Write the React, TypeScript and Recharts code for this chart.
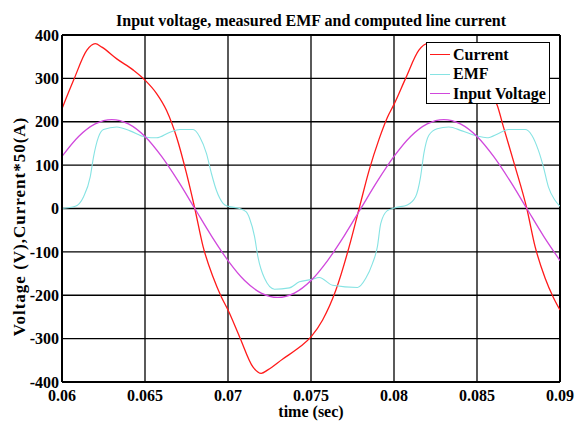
import React from 'react';
import { LineChart, Line, XAxis, YAxis, CartesianGrid, Legend, ReferenceLine } from 'recharts';

const xTicks = [0.06, 0.065, 0.07, 0.075, 0.08, 0.085, 0.09];
const xTickLabels = ['0.06', '0.065', '0.07', '0.075', '0.08', '0.085', '0.09'];
const yTicks = [-400, -300, -200, -100, 0, 100, 200, 300, 400];

const currentT = [0.06, 0.0607, 0.0615, 0.062, 0.0624, 0.0633, 0.0643, 0.065, 0.0657, 0.0663, 0.0669, 0.0675, 0.068, 0.0685, 0.0691, 0.0696, 0.07, 0.0707, 0.0715, 0.072, 0.0724, 0.0733, 0.0743, 0.075, 0.0757, 0.0765, 0.0773, 0.0779, 0.0785, 0.0791, 0.0796, 0.08, 0.0807, 0.0815, 0.082, 0.0824, 0.0833, 0.0843, 0.085, 0.0857, 0.0862, 0.0866, 0.0873, 0.088, 0.0885, 0.0891, 0.0896, 0.09];
const currentV = [230, 296, 365, 380, 372, 345, 319, 296, 265, 226, 165, 81, 0, -88, -158, -204, -234, -296, -365, -380, -372, -347, -320, -296, -257, -188, -88, 0, 88, 160, 210, 240, 300, 365, 380, 372, 345, 318, 295, 265, 240, 187, 96, 0, -88, -160, -205, -234];

const emfT = [0.06, 0.0608, 0.0613, 0.0617, 0.0619, 0.0622, 0.0625, 0.0633, 0.0641, 0.065, 0.0657, 0.0665, 0.0671, 0.0679, 0.0683, 0.0687, 0.069, 0.0693, 0.0697, 0.07, 0.0707, 0.0711, 0.0713, 0.0716, 0.0718, 0.0722, 0.0728, 0.0737, 0.0743, 0.075, 0.0755, 0.0763, 0.0778, 0.0783, 0.0787, 0.079, 0.0792, 0.0796, 0.0801, 0.0808, 0.0813, 0.0816, 0.0818, 0.0821, 0.0826, 0.0833, 0.0841, 0.085, 0.0856, 0.0863, 0.0869, 0.0879, 0.0883, 0.0887, 0.089, 0.0893, 0.0897, 0.09];
const emfV = [0, 5, 27, 73, 119, 165, 182, 188, 179, 165, 163, 176, 182, 182, 165, 127, 81, 42, 12, 5, 0, -8, -23, -65, -111, -161, -186, -183, -169, -164, -159, -177, -182, -161, -127, -88, -35, -5, 2, 8, 27, 73, 127, 169, 184, 188, 179, 167, 163, 173, 182, 182, 169, 134, 96, 50, 19, 5];

const voltageT = [0.06, 0.061, 0.062, 0.063, 0.064, 0.065, 0.066, 0.067, 0.068, 0.069, 0.07, 0.071, 0.072, 0.073, 0.074, 0.075, 0.076, 0.077, 0.078, 0.079, 0.08, 0.081, 0.082, 0.083, 0.084, 0.085, 0.086, 0.087, 0.088, 0.089, 0.09];
const voltageV = [120, 166, 195, 205, 195, 166, 120, 63, 0, -63, -120, -166, -195, -205, -195, -166, -120, -63, 0, 63, 120, 166, 195, 205, 195, 166, 120, 63, 0, -63, -120];

const seriesNames = ['Current', 'EMF', 'Input Voltage'];
const seriesColors = ['#ff1a1a', '#86e3e3', '#d048dc'];

const toData = (ts: number[], vs: number[]) => ts.map((t, i) => ({ t, v: vs[i] }));
const currentData = toData(currentT, currentV);
const emfData = toData(emfT, emfV);
const voltageData = toData(voltageT, voltageV);

const FONT = '"Liberation Serif", "Times New Roman", serif';

const LegendBox = () => (
  <div
    style={{
      width: 124,
      height: 62,
      boxSizing: 'border-box',
      border: '1.5px solid #000',
      background: '#fff',
      fontFamily: FONT,
      fontWeight: 'bold',
      fontSize: 16,
      paddingTop: 2,
    }}
  >
    {seriesNames.map((n, i) => (
      <div key={n} style={{ display: 'flex', alignItems: 'center', height: 19.5, whiteSpace: 'nowrap' }}>
        <span style={{ display: 'inline-block', width: 20, height: 0, borderTop: `1.3px solid ${seriesColors[i]}`, marginLeft: 3, marginRight: 3 }} />
        <span>{n}</span>
      </div>
    ))}
  </div>
);

const YLabel = (props: any) => {
  const vb = props.viewBox || { x: 0, y: 0, width: 0, height: 0 };
  const cx = vb.x + 19;
  const cy = vb.y + vb.height / 2 + 18;
  return (
    <text
      x={cx}
      y={cy}
      transform={`rotate(-90, ${cx}, ${cy})`}
      textAnchor="middle"
      dominantBaseline="central"
      fontFamily={FONT}
      fontWeight="bold"
      fontSize={17}
      letterSpacing={1}
      fill="#000"
    >
      Voltage (V),Current*50(A)
    </text>
  );
};

const XLabel = (props: any) => {
  const vb = props.viewBox || { x: 0, y: 0, width: 0, height: 0 };
  const cx = vb.x + vb.width / 2;
  const cy = vb.y + 35;
  return (
    <text x={cx} y={cy} textAnchor="middle" fontFamily={FONT} fontWeight="bold" fontSize={16} fill="#000">
      time (sec)
    </text>
  );
};

export default function App() {
  return (
    <div style={{ position: 'absolute', left: 0, top: 0, width: 576, height: 422, background: '#fff' }}>
      <div
        style={{
          position: 'absolute',
          left: 62,
          width: 498,
          top: 11,
          textAlign: 'center',
          fontFamily: FONT,
          fontWeight: 'bold',
          fontSize: 16,
          lineHeight: '20px',
          color: '#000',
        }}
      >
        Input voltage, measured EMF and computed line current
      </div>
      <LineChart width={576} height={422} margin={{ top: 35, right: 16, bottom: 0, left: 0 }}>
        <CartesianGrid stroke="#000" strokeWidth={1.3} horizontalValues={yTicks} verticalValues={xTicks} />
        <XAxis
          type="number"
          dataKey="t"
          domain={[0.06, 0.09]}
          ticks={xTicks}
          tickFormatter={(v: number) => xTickLabels[xTicks.findIndex((x) => Math.abs(x - v) < 1e-9)] ?? String(v)}
          allowDataOverflow
          height={40}
          tickLine={false}
          tickSize={0}
          tickMargin={8}
          axisLine={{ stroke: '#000', strokeWidth: 2 }}
          tick={{ fill: '#000', fontFamily: FONT, fontWeight: 'bold', fontSize: 16 }}
          interval={0}
          label={<XLabel />}
        />
        <YAxis
          type="number"
          domain={[-400, 400]}
          ticks={yTicks}
          allowDataOverflow
          width={62}
          tickLine={false}
          tickSize={0}
          tickMargin={3}
          axisLine={{ stroke: '#000', strokeWidth: 2 }}
          tick={{ fill: '#000', fontFamily: FONT, fontWeight: 'bold', fontSize: 16 }}
          interval={0}
          label={<YLabel />}
        />
        <ReferenceLine y={400} stroke="#000" strokeWidth={2} />
        <ReferenceLine x={0.09} stroke="#000" strokeWidth={2} />
        <Line data={currentData} dataKey="v" name={seriesNames[0]} type="monotone" stroke={seriesColors[0]} strokeWidth={1.3} dot={false} isAnimationActive={false} />
        <Line data={emfData} dataKey="v" name={seriesNames[1]} type="monotone" stroke={seriesColors[1]} strokeWidth={1.1} dot={false} isAnimationActive={false} />
        <Line data={voltageData} dataKey="v" name={seriesNames[2]} type="monotone" stroke={seriesColors[2]} strokeWidth={1.3} dot={false} isAnimationActive={false} />
        <Legend
          layout="vertical"
          align="center"
          verticalAlign="middle"
          content={<LegendBox />}
          wrapperStyle={{ left: 426, top: 42, width: 124, height: 62 }}
        />
      </LineChart>
    </div>
  );
}
